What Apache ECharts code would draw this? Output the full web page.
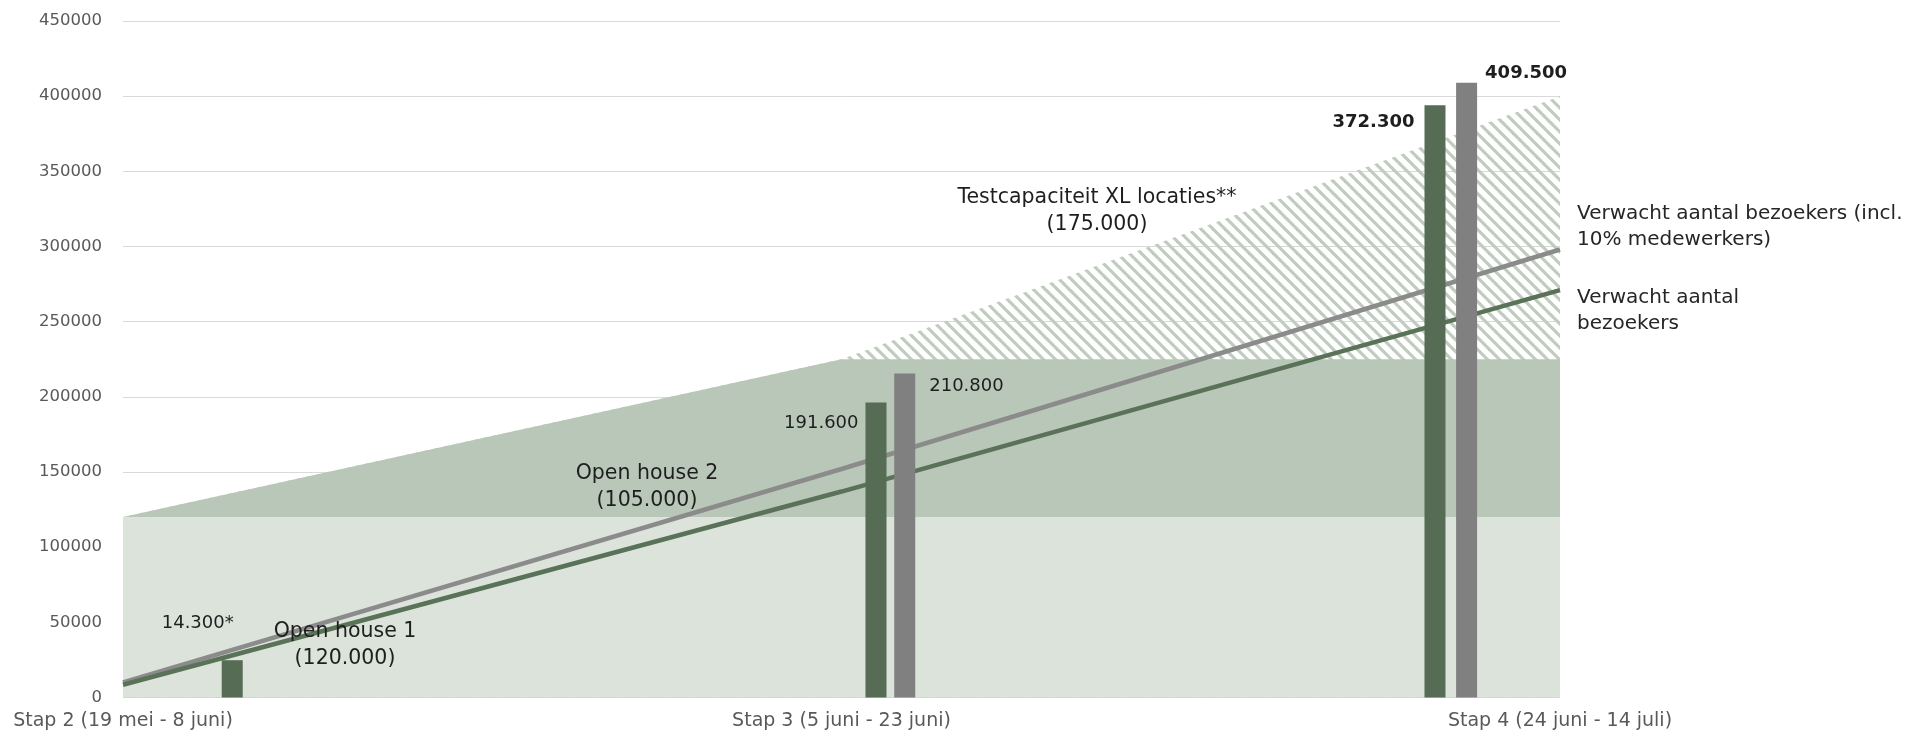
<!DOCTYPE html>
<html>
<head>
<meta charset="utf-8">
<script src="https://cdn.jsdelivr.net/npm/echarts@6/dist/echarts.min.js"></script>
<style>
html,body{margin:0;padding:0;background:#fff;}
#chart{width:1925px;height:737px;}
</style>
</head>
<body>
<div id="chart"></div>
<script>
// ---- data ----
const categories = ['Stap 2 (19 mei - 8 juni)', 'Stap 3 (5 juni - 23 juni)', 'Stap 4 (24 juni - 14 juli)'];
const openHouse1 = [120000, 120000, 120000];
const openHouse2 = [0, 105000, 105000];
const testcapaciteitXL = [0, 0, 175000];
const verwachtInclMedewerkers = [10000, 152000, 298000];
const verwachtBezoekers = [8500, 137000, 271000];
const barX = [0.152, 1.048, 1.088, 1.826, 1.870];
const barValues = [24800, 196200, 215500, 394000, 408900];
const barLabels = ['14.300*', '191.600', '210.800', '372.300', '409.500'];
const barKind = ['bezoekers', 'bezoekers', 'incl', 'bezoekers', 'incl'];
const yMax = 450000, yStep = 50000;
const annotationTexts = ['Open house 1\n(120.000)', 'Open house 2\n(105.000)', 'Testcapaciteit XL locaties**\n(175.000)'];
const lineLabelTexts = ['Verwacht aantal bezoekers (incl.\n10% medewerkers)', 'Verwacht aantal\nbezoekers'];

// ---- styles ----
const FONT = '"DejaVu Sans", sans-serif';
const C = {
  light: '#dbe3db', medium: '#b8c7b7', stripe: '#c0ccbf',
  darkBar: '#566c55', grayBar: '#808080',
  greenLine: '#5a7258', grayLine: '#8b8b8b',
  axisText: '#595959', text: '#1e1e1e', grid: '#d9d9d9'
};

// hatch pattern
const T = 12;
const pat = document.createElement('canvas');
pat.width = T; pat.height = T;
const pc = pat.getContext('2d');
pc.strokeStyle = C.stripe; pc.lineWidth = 3.2;
for (let k = -1; k <= 1; k++) {
  pc.beginPath();
  pc.moveTo(k * T - 3, -3);
  pc.lineTo(k * T + T + 3, T + 3);
  pc.stroke();
}

// cumulative capacity tops
const cap1 = openHouse1.map((v, i) => [i, v]);
const cap2 = openHouse1.map((v, i) => [i, v + openHouse2[i]]);
const cap3 = openHouse1.map((v, i) => [i, v + openHouse2[i] + testcapaciteitXL[i]]);

const labelLayouts = [
  { position: [-24, -37], align: 'center', fontWeight: 'normal' },
  { position: [-7, 21], align: 'right', fontWeight: 'normal' },
  { position: [35, 13], align: 'left', fontWeight: 'normal' },
  { position: [-10, 17], align: 'right', fontWeight: 'bold' },
  { position: [29, -9], align: 'left', fontWeight: 'bold' }
];

const barData = barX.map((x, i) => ({
  value: [x, barValues[i]],
  itemStyle: { color: barKind[i] === 'incl' ? C.grayBar : C.darkBar },
  label: {
    show: true,
    formatter: barLabels[i],
    position: labelLayouts[i].position,
    align: labelLayouts[i].align,
    verticalAlign: 'middle',
    fontWeight: labelLayouts[i].fontWeight,
    fontSize: 18,
    fontFamily: FONT,
    color: C.text
  }
}));

const areaSeries = (data, color) => ({
  type: 'line', data, symbol: 'none', silent: true,
  lineStyle: { width: 0 }, areaStyle: { color, opacity: 1 }, z: 1
});

const chart = echarts.init(document.getElementById('chart'), null, { renderer: 'canvas' });
chart.setOption({
  animation: false,
  backgroundColor: '#ffffff',
  grid: { left: 123, right: 365, top: 21, bottom: 39.5, containLabel: false },
  xAxis: {
    type: 'value', min: 0, max: 2, interval: 1,
    axisLine: { show: false }, axisTick: { show: false }, splitLine: { show: false },
    axisLabel: {
      formatter: v => categories[Math.round(v)] || '',
      fontSize: 19, fontFamily: FONT, color: C.axisText, margin: 13, lineHeight: 22,
      showMinLabel: true, showMaxLabel: true, hideOverlap: false
    }
  },
  yAxis: {
    type: 'value', min: 0, max: yMax, interval: yStep,
    axisLine: { show: false }, axisTick: { show: false },
    splitLine: { lineStyle: { color: C.grid, width: 1 } },
    axisLabel: { formatter: v => String(v), fontSize: 16.5, fontFamily: FONT, color: C.axisText, margin: 21 }
  },
  series: [
    areaSeries(cap3, { image: pat, repeat: 'repeat' }),
    areaSeries(cap2, C.medium),
    areaSeries(cap1, C.light),
    {
      type: 'line', name: 'Verwacht aantal bezoekers (incl. 10% medewerkers)',
      data: verwachtInclMedewerkers.map((v, i) => [i, v]), symbol: 'none',
      lineStyle: { color: C.grayLine, width: 4.5 }, z: 3
    },
    {
      type: 'line', name: 'Verwacht aantal bezoekers',
      data: verwachtBezoekers.map((v, i) => [i, v]), symbol: 'none',
      lineStyle: { color: C.greenLine, width: 4.5 }, z: 3
    },
    {
      type: 'bar', data: barData, barWidth: 21, z: 4
    }
  ],
  graphic: [
    { type: 'text', x: 345, y: 645, z: 10, style: { text: annotationTexts[0], align: 'center', verticalAlign: 'middle', fontSize: 20.5, lineHeight: 27.5, fontFamily: FONT, fill: C.text } },
    { type: 'text', x: 647, y: 487, z: 10, style: { text: annotationTexts[1], align: 'center', verticalAlign: 'middle', fontSize: 20.5, lineHeight: 27.5, fontFamily: FONT, fill: C.text } },
    { type: 'text', x: 1097, y: 211, z: 10, style: { text: annotationTexts[2], align: 'center', verticalAlign: 'middle', fontSize: 20.5, lineHeight: 27.5, fontFamily: FONT, fill: C.text } },
    { type: 'text', x: 1577, y: 227, z: 10, style: { text: lineLabelTexts[0], align: 'left', verticalAlign: 'middle', fontSize: 20, lineHeight: 25.5, fontFamily: FONT, fill: '#262626' } },
    { type: 'text', x: 1577, y: 311, z: 10, style: { text: lineLabelTexts[1], align: 'left', verticalAlign: 'middle', fontSize: 20, lineHeight: 26.5, fontFamily: FONT, fill: '#262626' } }
  ]
});
</script>
</body>
</html>
